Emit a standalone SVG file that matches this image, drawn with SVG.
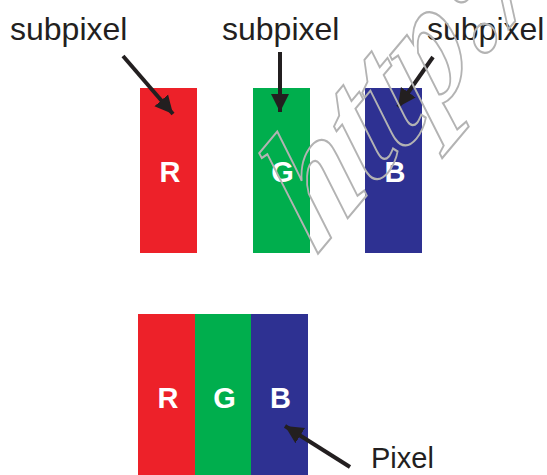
<svg xmlns="http://www.w3.org/2000/svg" width="547" height="475" viewBox="0 0 547 475">
<defs>
<style>
.lbl{font-family:"Liberation Sans",Arial,sans-serif;font-size:32px;fill:#231F20}
.ch{font-family:"Liberation Sans",Arial,sans-serif;font-size:29px;font-weight:bold;fill:#FFFFFF;text-anchor:middle}
.r{fill:#ED2129}.g{fill:#00AE4D}.b{fill:#2E3192}
.ar{stroke:#231F20;stroke-width:4;fill:none;marker-end:url(#ah)}
.wm{font-family:"Liberation Serif","Times New Roman",serif;font-style:italic;font-weight:bold;font-size:158px;fill:none;stroke:#B3B3B3;stroke-width:2}
</style>
<marker id="ah" markerUnits="userSpaceOnUse" markerWidth="20" markerHeight="20" viewBox="0 0 20 20" refX="18" refY="10" orient="auto">
<path d="M0,1 L18,10 L0,19 Z" fill="#231F20"/>
</marker>
</defs>
<g id="node-top-R"><rect class="r" x="140" y="88" width="57" height="165"/><text class="ch" x="170" y="182">R</text></g>
<g id="node-top-G"><rect class="g" x="253" y="88" width="57" height="165"/><text class="ch" x="282.5" y="182">G</text></g>
<g id="node-top-B"><rect class="b" x="365" y="88" width="57" height="165"/><text class="ch" x="395" y="182">B</text></g>
<g id="node-pixel">
<rect class="r" x="138" y="314" width="57" height="162"/>
<rect class="g" x="195" y="314" width="56" height="162"/>
<rect class="b" x="251" y="314" width="57" height="162"/>
<text class="ch" x="168" y="408">R</text>
<text class="ch" x="224.5" y="408">G</text>
<text class="ch" x="280.5" y="408">B</text>
</g>
<g id="label-sub1"><text class="lbl" x="10" y="40">subpixel</text></g>
<g id="label-sub2"><text class="lbl" x="222" y="40">subpixel</text></g>
<g id="label-sub3"><text class="lbl" x="427" y="40">subpixel</text></g>
<g id="label-pixel"><text class="lbl" x="371" y="468" style="font-size:29px">Pixel</text></g>
<g id="connectors">
<line class="ar" x1="123" y1="56" x2="173" y2="114"/>
<line class="ar" x1="280" y1="52" x2="280" y2="112"/>
<line class="ar" x1="433" y1="57" x2="398" y2="107"/>
<line class="ar" x1="350" y1="467" x2="285" y2="426"/>
</g>
<g id="watermark"><text class="wm" transform="translate(316,256) rotate(-50) skewX(-14)">http://</text></g>
</svg>
